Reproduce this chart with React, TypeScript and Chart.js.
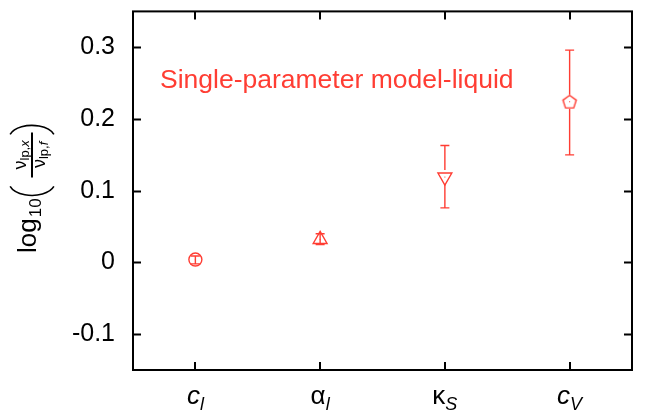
import React, { useEffect, useRef } from 'react';
import { Chart, registerables } from 'chart.js';

Chart.register(...registerables);

// ---- data ----
const catMain = ['c', 'α', 'κ', 'c'];
const catSub = ['l', 'l', 'S', 'V'];
const catItalicMain = [true, false, false, true];
const catPos = [1, 2, 3, 4];
const values = [0.004, 0.032, 0.119, 0.224];
const lowErr = [-0.002, 0.025, 0.076, 0.150];
const highErr = [0.009, 0.040, 0.163, 0.296];
const yTicks = [-0.1, 0, 0.1, 0.2, 0.3];
const yTickLabels = ['-0.1', '0', '0.1', '0.2', '0.3'];
const titleText = 'Single-parameter model-liquid';

const RED = '#ff3d33';
const FONT = '"Liberation Sans", Arial, sans-serif';

function makePentagon(color: string) {
  const c = document.createElement('canvas');
  c.width = 20;
  c.height = 20;
  const g = c.getContext('2d')!;
  g.beginPath();
  for (let i = 0; i < 5; i++) {
    const a = -Math.PI / 2 + (i * 2 * Math.PI) / 5;
    const x = 10 + 7 * Math.cos(a);
    const y = 10.5 + 7 * Math.sin(a);
    if (i === 0) g.moveTo(x, y);
    else g.lineTo(x, y);
  }
  g.closePath();
  g.strokeStyle = color;
  g.lineWidth = 1.4;
  g.stroke();
  return c;
}

const decorPlugin = {
  id: 'decor',
  afterDatasetsDraw(chart: any) {
    const { ctx, chartArea: ca, scales } = chart;
    const xs = scales.x;
    const ys = scales.y;
    ctx.save();
    // error bars
    ctx.strokeStyle = RED;
    ctx.lineWidth = 1.4;
    const gap = 7;
    for (let i = 0; i < values.length; i++) {
      const px = xs.getPixelForValue(catPos[i]);
      const py = ys.getPixelForValue(values[i]);
      const ph = ys.getPixelForValue(highErr[i]);
      const pl = ys.getPixelForValue(lowErr[i]);
      ctx.beginPath();
      if (ph >= py - gap && pl <= py + gap) {
        ctx.moveTo(px, ph);
        ctx.lineTo(px, pl);
      } else {
        if (ph < py - gap) {
          ctx.moveTo(px, ph);
          ctx.lineTo(px, py - gap);
        }
        if (pl > py + gap) {
          ctx.moveTo(px, py + gap);
          ctx.lineTo(px, pl);
        }
      }
      ctx.moveTo(px - 4.5, ph);
      ctx.lineTo(px + 4.5, ph);
      ctx.moveTo(px - 4.5, pl);
      ctx.lineTo(px + 4.5, pl);
      ctx.stroke();
      ctx.fillStyle = RED;
      ctx.fillRect(px - 0.5, py - 0.5, 1, 1);
    }
    // frame
    ctx.strokeStyle = '#000';
    ctx.lineWidth = 2;
    ctx.strokeRect(ca.left, ca.top, ca.right - ca.left, ca.bottom - ca.top);
    ctx.beginPath();
    const tl = 8;
    for (const v of yTicks) {
      const y = Math.round(ys.getPixelForValue(v)) + 0.5;
      ctx.moveTo(ca.left, y);
      ctx.lineTo(ca.left + tl, y);
      ctx.moveTo(ca.right, y);
      ctx.lineTo(ca.right - tl, y);
    }
    for (const p of catPos) {
      const x = Math.round(xs.getPixelForValue(p));
      ctx.moveTo(x, ca.bottom);
      ctx.lineTo(x, ca.bottom - tl);
      ctx.moveTo(x, ca.top);
      ctx.lineTo(x, ca.top + tl);
    }
    ctx.stroke();

    // title
    ctx.fillStyle = RED;
    ctx.font = `26.5px ${FONT}`;
    ctx.textAlign = 'left';
    ctx.textBaseline = 'alphabetic';
    ctx.fillText(titleText, 160, 88);

    // x category labels
    ctx.fillStyle = '#000';
    for (let i = 0; i < catPos.length; i++) {
      const x = xs.getPixelForValue(catPos[i]);
      const mainFont = `${catItalicMain[i] ? 'italic ' : ''}26px ${FONT}`;
      const subFont = `italic 18px ${FONT}`;
      ctx.font = mainFont;
      const wm = ctx.measureText(catMain[i]).width;
      ctx.font = subFont;
      const ws = ctx.measureText(catSub[i]).width;
      const start = x - (wm + ws) / 2;
      ctx.font = mainFont;
      ctx.fillText(catMain[i], start, 404);
      ctx.font = subFont;
      ctx.fillText(catSub[i], start + wm, 410);
    }

    // y axis label: log10( ν_lp,x / ν_lp,f )
    ctx.translate(36, 253);
    ctx.rotate(-Math.PI / 2);
    ctx.font = `26px ${FONT}`;
    ctx.fillText('log', 0, 0);
    let u = ctx.measureText('log').width;
    ctx.font = `17px ${FONT}`;
    ctx.fillText('10', u + 1, 5);
    u += ctx.measureText('10').width + 1;
    const midV = -4;
    // left paren
    ctx.strokeStyle = '#000';
    ctx.lineWidth = 1.6;
    ctx.beginPath();
    ctx.ellipse(u + 16, midV, 13, 23, 0, Math.PI * 0.6, Math.PI * 1.4);
    ctx.stroke();
    u += 21;
    // fraction
    const fracW = 45;
    const barV = midV;
    ctx.lineWidth = 2;
    ctx.beginPath();
    ctx.moveTo(u, barV);
    ctx.lineTo(u + fracW, barV);
    ctx.stroke();
    const drawNu = (sub: string, base: number) => {
      ctx.font = `18px ${FONT}`;
      const w1 = ctx.measureText('ν').width;
      ctx.font = `13px ${FONT}`;
      const w2 = ctx.measureText('lp,').width;
      ctx.font = `italic 13px ${FONT}`;
      const w3 = ctx.measureText(sub).width;
      const tot = w1 + w2 + w3;
      let s = u + (fracW - tot) / 2;
      ctx.font = `18px ${FONT}`;
      ctx.fillText('ν', s, base);
      s += w1;
      ctx.font = `13px ${FONT}`;
      ctx.fillText('lp,', s, base + 3);
      s += w2;
      ctx.font = `italic 13px ${FONT}`;
      ctx.fillText(sub, s, base + 3);
    };
    drawNu('x', barV - 6);
    drawNu('f', barV + 13);
    u += fracW;
    // right paren
    ctx.lineWidth = 1.6;
    ctx.beginPath();
    ctx.ellipse(u - 6, midV, 13, 23, 0, -Math.PI * 0.4, Math.PI * 0.4);
    ctx.stroke();
    ctx.restore();
  },
};

export default function App() {
  const ref = useRef<HTMLCanvasElement>(null);
  useEffect(() => {
    document.body.style.margin = '0';
    const pent = makePentagon(RED);
    const chart = new Chart(ref.current!, {
      type: 'scatter',
      data: {
        datasets: [
          {
            data: catPos.map((x, i) => ({ x, y: values[i] })),
            pointStyle: ['circle', 'triangle', 'triangle', pent] as any,
            rotation: [0, 0, 180, 0],
            radius: [6.5, 8, 8, 10],
            hoverRadius: [6.5, 8, 8, 10],
            borderColor: RED,
            backgroundColor: 'rgba(0,0,0,0)',
            borderWidth: 1.4,
          } as any,
        ],
      },
      options: {
        animation: false,
        responsive: false,
        events: [],
        layout: { padding: { left: 0, right: 26, top: 10, bottom: 0 } },
        plugins: { legend: { display: false }, tooltip: { enabled: false } },
        scales: {
          x: {
            type: 'linear',
            min: 0.5,
            max: 4.5,
            grid: { display: false, drawTicks: false },
            border: { display: false },
            ticks: { display: false },
            afterBuildTicks: (s: any) => {
              s.ticks = catPos.map((v) => ({ value: v }));
            },
            afterFit: (s: any) => {
              s.height = 40;
              s.paddingLeft = 0;
              s.paddingRight = 0;
            },
          },
          y: {
            type: 'linear',
            min: -0.15,
            max: 0.35,
            grid: { display: false, drawTicks: false },
            border: { display: false },
            afterBuildTicks: (s: any) => {
              s.ticks = yTicks.map((v) => ({ value: v }));
            },
            ticks: {
              padding: 18,
              color: '#000',
              font: { family: FONT, size: 25 },
              callback: (v: any) => {
                const i = yTicks.findIndex((t) => Math.abs(t - Number(v)) < 1e-9);
                return i >= 0 ? yTickLabels[i] : '';
              },
            },
            afterFit: (s: any) => {
              s.width = 133;
              s.paddingTop = 0;
              s.paddingBottom = 0;
            },
          },
        },
      },
      plugins: [decorPlugin],
    });
    return () => chart.destroy();
  }, []);
  return (
    <div style={{ position: 'absolute', left: 0, top: 0, width: 658, height: 410 }}>
      <canvas ref={ref} width={658} height={410} style={{ width: 658, height: 410 }} />
    </div>
  );
}
